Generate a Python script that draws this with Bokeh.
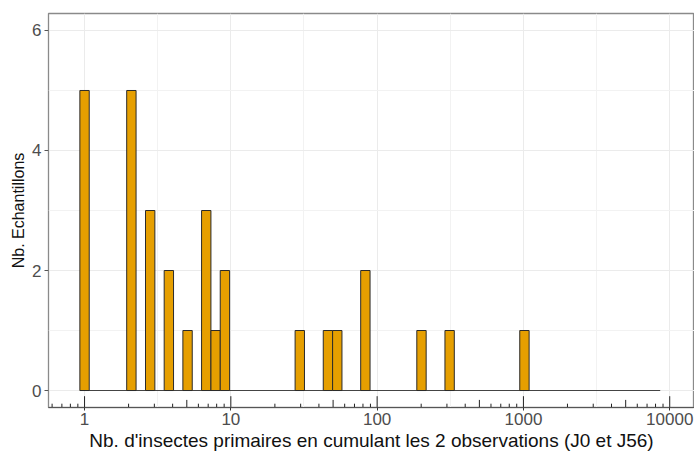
from bokeh.plotting import figure
from bokeh.models import FixedTicker, Range1d
from bokeh.embed import file_html
from bokeh.resources import INLINE

# ---- data ----
bin_centers = [1, 2.09, 2.81, 3.77, 5.06, 6.79, 7.87, 9.11, 29.6, 46.1, 53.4, 83.1, 201, 313, 1016]
counts = [5, 5, 3, 2, 1, 3, 1, 2, 1, 1, 1, 2, 1, 1, 1]
baseline_extent = [0.929, 8610]
x_tick_values = [1, 10, 100, 1000, 10000]
x_tick_labels = ["1", "10", "100", "1000", "10000"]
y_tick_values = [0, 2, 4, 6]
y_minor_values = [1, 3, 5]

# ---- styling constants ----
half_bin = 10 ** 0.032
FILL = "#E69F00"
EDGE = "#2b2b2b"
FONT = "Liberation Sans"

p = figure(width=694, height=453, x_axis_type="log",
           x_range=Range1d(0.567, 14770), y_range=Range1d(-0.283, 6.283),
           output_backend="svg", toolbar_location=None,
           min_border_left=48, min_border_right=0, min_border_top=13, min_border_bottom=46)

p.background_fill_color = "white"
p.border_fill_color = "white"
p.outline_line_color = "#8a8a8a"
p.outline_line_width = 1.3

# grids
p.xgrid.ticker = FixedTicker(ticks=x_tick_values,
                             minor_ticks=[10 ** (k + 0.5) for k in range(-1, 5)])
p.ygrid.ticker = FixedTicker(ticks=y_tick_values, minor_ticks=y_minor_values)
for g in (p.xgrid[0], p.ygrid[0]):
    g.grid_line_color = "#EBEBEB"
    g.grid_line_width = 1
    g.minor_grid_line_color = "#F2F2F2"
    g.minor_grid_line_width = 1

# baseline of empty bins
p.segment(x0=[baseline_extent[0]], x1=[baseline_extent[1]], y0=[0], y1=[0],
          line_color="#444444", line_width=1.2)

# bars
p.quad(left=[c / half_bin for c in bin_centers], right=[c * half_bin for c in bin_centers],
       bottom=0, top=counts, fill_color=FILL, line_color=EDGE, line_width=1)

# log ticks annotation (bottom, inside panel)
px = 6.566 / 394.0
xs, y1s = [], []
for e in range(-1, 5):
    for m in range(1, 10):
        v = m * 10 ** e
        if 0.57 < v < 14000:
            if m == 1:
                L = 11.3
            elif m == 5:
                L = 7.6
            else:
                L = 3.8
            xs.append(v)
            y1s.append(-0.283 + L * px)
p.segment(x0=xs, x1=xs, y0=[-0.283] * len(xs), y1=y1s, line_color="#222222", line_width=1)

# x axis
xa = p.xaxis[0]
xa.ticker = FixedTicker(ticks=x_tick_values, minor_ticks=[])
xa.major_label_overrides = {v: s for v, s in zip(x_tick_values, x_tick_labels)}
xa.axis_label = "Nb. d'insectes primaires en cumulant les 2 observations (J0 et J56)"
xa.axis_line_color = "#555555"
xa.axis_line_width = 1.2
xa.major_tick_line_color = "#333333"
xa.major_tick_out = 3
xa.major_tick_in = 0
xa.minor_tick_line_color = None
xa.major_label_text_font = FONT
xa.major_label_text_font_size = "17px"
xa.major_label_text_color = "#4D4D4D"
xa.major_label_standoff = 2
xa.axis_label_text_font = FONT
xa.axis_label_text_font_size = "19px"
xa.axis_label_text_font_style = "normal"
xa.axis_label_text_color = "#111111"
xa.axis_label_standoff = 2

# y axis
ya = p.yaxis[0]
ya.ticker = FixedTicker(ticks=y_tick_values, minor_ticks=[])
ya.axis_label = "Nb. Echantillons"
ya.axis_line_color = None
ya.major_tick_line_color = "#555555"
ya.major_tick_out = 4
ya.major_tick_in = 0
ya.minor_tick_line_color = None
ya.major_label_text_font = FONT
ya.major_label_text_font_size = "17px"
ya.major_label_text_color = "#4D4D4D"
ya.major_label_standoff = 3
ya.axis_label_text_font = FONT
ya.axis_label_text_font_size = "16px"
ya.axis_label_text_font_style = "normal"
ya.axis_label_text_color = "#111111"
ya.axis_label_standoff = 2

open("out.html", "w").write(file_html(p, INLINE))
